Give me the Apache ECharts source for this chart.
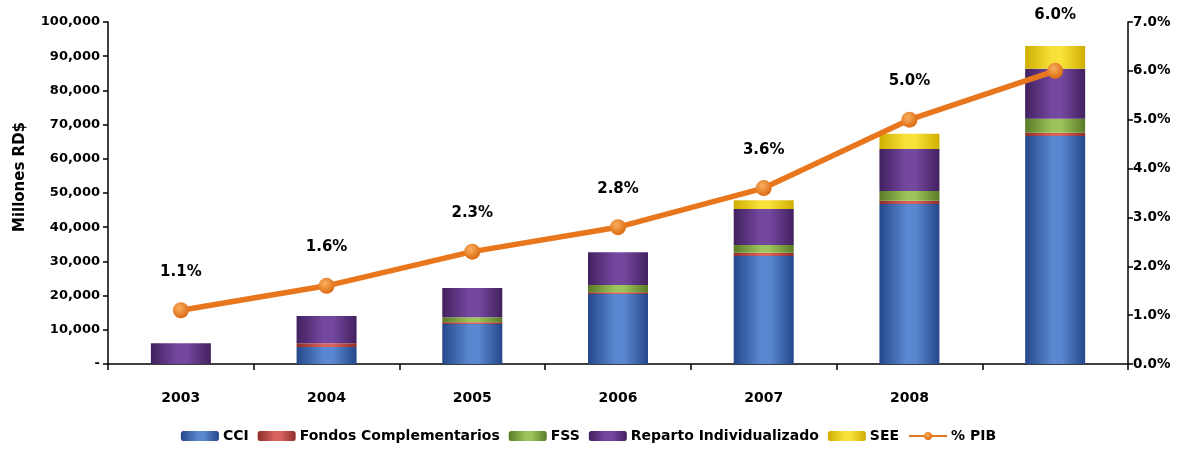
<!DOCTYPE html>
<html>
<head>
<meta charset="utf-8">
<title>Millones RD$ - % PIB</title>
<script src="https://cdn.jsdelivr.net/npm/echarts@6/dist/echarts.min.js"></script>
<style>
    html, body { margin: 0; padding: 0; background: #fff; }
    #main { width: 1177px; height: 451px; }
</style>
</head>
<body>
<div id="main"></div>
<script>
    // datos (millones RD$)
    var years = ['2003', '2004', '2005', '2006', '2007', '2008', ''];
    var cci = [0, 5000, 11700, 20500, 31600, 46800, 66700];
    var fondos = [0, 1100, 500, 500, 900, 900, 900];
    var fss = [0, 0, 1500, 2100, 2300, 2900, 4100];
    var reparto = [6100, 7900, 8500, 9600, 10500, 12300, 14600];
    var see = [0, 0, 0, 0, 2600, 4400, 6700];
    var pib = [1.1, 1.6, 2.3, 2.8, 3.6, 5.0, 6.0];

    var leftTicks = [0, 10000, 20000, 30000, 40000, 50000, 60000, 70000, 80000, 90000, 100000];
    var rightTicks = [0, 1, 2, 3, 4, 5, 6, 7];

    var FONT = '"DejaVu Sans", sans-serif';

    function cyl(edge, mid) {
        return new echarts.graphic.LinearGradient(0, 0, 1, 0, [
            { offset: 0, color: edge },
            { offset: 0.45, color: mid },
            { offset: 0.6, color: mid },
            { offset: 1, color: edge }
        ]);
    }

    function barSerie(name, data, edge, mid) {
        return {
            name: name,
            type: 'bar',
            stack: 'total',
            barWidth: 60,
            data: data,
            itemStyle: { color: cyl(edge, mid) }
        };
    }

    var myChart = echarts.init(document.getElementById('main'));

    var option = {
        animation: false,
        textStyle: { fontFamily: FONT },
        grid: { left: 108, right: 49, top: 22, bottom: 87 },
        legend: {
            bottom: 3,
            left: 'center',
            itemWidth: 38,
            itemHeight: 10,
            itemGap: 9,
            textStyle: { fontFamily: FONT, fontWeight: 'bold', fontSize: 14, color: '#000', padding: [0, 0, 0, -1] },
            data: ['CCI', 'Fondos Complementarios', 'FSS', 'Reparto Individualizado', 'SEE', '% PIB']
        },
        xAxis: {
            type: 'category',
            data: years,
            axisLine: { lineStyle: { color: '#000', width: 1.5 } },
            axisTick: { show: true, length: 6, lineStyle: { color: '#000', width: 1.5 } },
            axisLabel: { color: '#000', fontWeight: 'bold', fontSize: 14, margin: 27, fontFamily: FONT }
        },
        yAxis: [
            {
                type: 'value',
                min: leftTicks[0],
                max: leftTicks[leftTicks.length - 1],
                interval: leftTicks[1] - leftTicks[0],
                name: 'Millones RD$',
                nameLocation: 'middle',
                nameGap: 80,
                nameTextStyle: { color: '#000', fontWeight: 'bold', fontSize: 15, fontFamily: FONT, padding: [0, 0, 0, 32] },
                splitLine: { show: false },
                axisLine: { show: true, lineStyle: { color: '#000', width: 1.5 } },
                axisTick: { show: true, length: 5, lineStyle: { color: '#000', width: 1.5 } },
                axisLabel: {
                    color: '#000', fontWeight: 'bold', fontSize: 13, margin: 8, fontFamily: FONT,
                    formatter: function (v) {
                        return v === 0 ? '-' : v.toLocaleString('en-US');
                    }
                }
            },
            {
                type: 'value',
                min: rightTicks[0],
                max: rightTicks[rightTicks.length - 1],
                interval: rightTicks[1] - rightTicks[0],
                position: 'right',
                splitLine: { show: false },
                axisLine: { show: true, lineStyle: { color: '#000', width: 1.5 } },
                axisTick: { show: true, length: 5, lineStyle: { color: '#000', width: 1.5 } },
                axisLabel: {
                    color: '#000', fontWeight: 'bold', fontSize: 13.5, margin: 5, fontFamily: FONT,
                    formatter: function (v) { return v.toFixed(1) + '%'; }
                }
            }
        ],
        series: [
            barSerie('CCI', cci, '#25478a', '#5a88d0'),
            barSerie('Fondos Complementarios', fondos, '#8e2e2b', '#d8625d'),
            barSerie('FSS', fss, '#5a7a27', '#9cc45a'),
            barSerie('Reparto Individualizado', reparto, '#42215f', '#7548a0'),
            barSerie('SEE', see, '#cfae00', '#f8e23a'),
            {
                name: '% PIB',
                type: 'line',
                yAxisIndex: 1,
                data: pib.map(function (v, i) {
                    return i === pib.length - 1 ? { value: v, label: { distance: 40 } } : v;
                }),
                lineStyle: { color: '#e8761c', width: 5.5 },
                symbol: 'circle',
                symbolSize: 16,
                itemStyle: {
                    color: new echarts.graphic.RadialGradient(0.4, 0.35, 0.7, [
                        { offset: 0, color: '#f9b060' },
                        { offset: 1, color: '#d9650c' }
                    ])
                },
                label: {
                    show: true,
                    position: 'top',
                    distance: 23,
                    color: '#000',
                    fontWeight: 'bold',
                    fontSize: 15,
                    fontFamily: FONT,
                    formatter: function (p) { return Number(p.value).toFixed(1) + '%'; }
                },
                z: 5
            }
        ]
    };

    myChart.setOption(option);
</script>
</body>
</html>
